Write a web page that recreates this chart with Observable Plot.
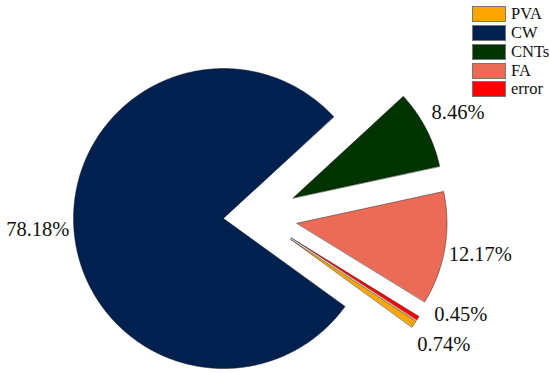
<!DOCTYPE html>
<html><head><meta charset="utf-8">
<script src="https://cdn.jsdelivr.net/npm/d3@7"></script>
<script src="https://cdn.jsdelivr.net/npm/@observablehq/plot@0.6"></script>
<style>
body{margin:0;background:#fff;}
#wrap{position:relative;width:550px;height:373px;}
#legend{position:absolute;left:472px;top:5px;font-family:"Liberation Serif","Times New Roman",serif;font-size:16.5px;color:#111;}
.row{display:flex;align-items:center;height:18.75px;}
.sw{width:32px;height:14px;border:1px solid #777;margin-right:5px;}
</style></head><body><div id="wrap"><div id="legend"></div></div>
<script>
const components = ["PVA", "CW", "CNTs", "FA", "error"];
const shares = [0.74, 78.18, 8.46, 12.17, 0.45];
const colors = ["#FFA500", "#002050", "#003300", "#EB6B56", "#FF0000"];

const deg = Math.PI / 180;
const startAngle = 123.2 * deg;
const explode = {CW: 0.227};           // radial offset, in radii
const defaultExplode = 0.267;
const labelRadius = 1.24;
const labelNudge = {error: -8 * deg};
const serif = '"Liberation Serif", "Times New Roman", serif';

const arcs = d3.pie().sort(null).value(d => d)
  .startAngle(startAngle).endAngle(startAngle + 2 * Math.PI)(shares);

const pts = [];
const labels = [];
arcs.forEach((a, i) => {
  const name = components[i];
  const mid = (a.startAngle + a.endAngle) / 2;
  const e = explode[name] ?? defaultExplode;
  const ox = e * Math.sin(mid), oy = e * Math.cos(mid);
  pts.push({name, x: ox, y: oy});
  const n = Math.max(2, Math.ceil((a.endAngle - a.startAngle) / (0.5 * deg)));
  for (let k = 0; k <= n; k++) {
    const t = a.startAngle + (a.endAngle - a.startAngle) * k / n;
    pts.push({name, x: ox + Math.sin(t), y: oy + Math.cos(t)});
  }
  const la = mid + (labelNudge[name] ?? 0);
  labels.push({name, x: ox + labelRadius * Math.sin(la), y: oy + labelRadius * Math.cos(la),
               text: shares[i].toFixed(2) + "%"});
});

const px = 150;
const chart = Plot.plot({
  width: 550, height: 373,
  marginTop: 0, marginRight: 0, marginBottom: 0, marginLeft: 0,
  x: {domain: [-257 / px, 293 / px], axis: null},
  y: {domain: [-157 / px, 216 / px], axis: null},
  color: {domain: components, range: colors},
  style: {background: "#fff", fontFamily: serif},
  marks: [
    Plot.line(pts, {x: "x", y: "y", z: "name", fill: "name", stroke: "#1a1a1a",
      strokeWidth: 0.6, strokeOpacity: 0.8, curve: "linear-closed"}),
    Plot.text(labels, {x: "x", y: "y", text: "text", fontSize: 20.5,
      fontFamily: serif, fill: "#111", textAnchor: "middle", lineAnchor: "middle"})
  ]
});
document.getElementById("wrap").prepend(chart);

const legend = document.getElementById("legend");
components.forEach((c, i) => {
  const row = document.createElement("div");
  row.className = "row";
  const sw = document.createElement("div");
  sw.className = "sw";
  sw.style.background = colors[i];
  const lab = document.createElement("span");
  lab.textContent = c;
  row.append(sw, lab);
  legend.append(row);
});
</script>
</body></html>
